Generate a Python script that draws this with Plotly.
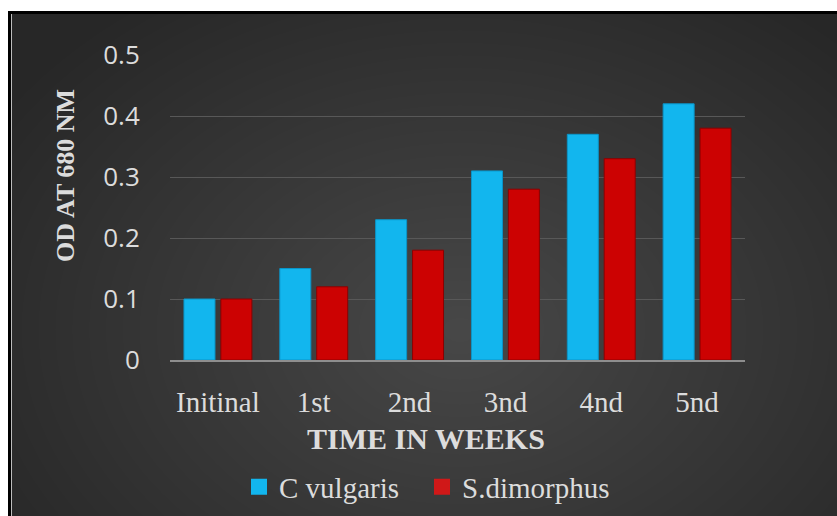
import plotly.graph_objects as go

categories = ["Initinal", "1st", "2nd", "3nd", "4nd", "5nd"]
c_vulgaris = [0.10, 0.15, 0.23, 0.31, 0.37, 0.42]
s_dimorphus = [0.10, 0.12, 0.18, 0.28, 0.33, 0.38]
series_names = ["C vulgaris", "S.dimorphus"]
y_ticks = [0, 0.1, 0.2, 0.3, 0.4, 0.5]
y_tick_text = ["0", "0.1", "0.2", "0.3", "0.4", "0.5"]

W, H = 837, 516
L, R, T, B = 170, 92, 55, 156
PW, PH = W - L - R, H - T - B


def px(x):
    return (x - L) / PW


def py(y):
    return (H - B - y) / PH


BLUE = "#12b6ee"
BLUE_EDGE = "#0a95c8"
RED = "#cc0202"
RED_EDGE = "#8e0000"
TXT = "#dcdcdc"
SERIF = "Liberation Serif, Times New Roman, serif"

fig = go.Figure()
fig.add_trace(go.Bar(x=categories, y=c_vulgaris, name=series_names[0],
                     marker=dict(color=BLUE, line=dict(color=BLUE_EDGE, width=1)),
                     showlegend=False))
fig.add_trace(go.Bar(x=categories, y=s_dimorphus, name=series_names[1],
                     marker=dict(color=RED, line=dict(color=RED_EDGE, width=1)),
                     showlegend=False))
# legend entries with square swatches, one legend each
for nm, col, lg in zip(series_names, [BLUE, "#d01818"], ["legend", "legend2"]):
    fig.add_trace(go.Scatter(x=[None], y=[None], mode="markers", name=nm,
                             marker=dict(symbol="square", size=17, color=col),
                             showlegend=True, legend=lg))

shapes = []
# radial-ish background glow
cx, cy = 460, 330
n = 32
for i in range(n):
    f = 1 - i / n
    rx, ry = 540 * f, 400 * f
    shapes.append(dict(type="circle", xref="paper", yref="paper", layer="below",
                       x0=px(cx - rx), x1=px(cx + rx), y0=py(cy + ry), y1=py(cy - ry),
                       fillcolor="white", opacity=0.0085, line=dict(width=0)))
# white margins and black frame
shapes.append(dict(type="rect", xref="paper", yref="paper", layer="above",
                   x0=px(-5), x1=px(W + 5), y0=py(11), y1=py(-5),
                   fillcolor="white", line=dict(width=0)))
shapes.append(dict(type="rect", xref="paper", yref="paper", layer="above",
                   x0=px(-5), x1=px(8), y0=py(H + 5), y1=py(-5),
                   fillcolor="white", line=dict(width=0)))
shapes.append(dict(type="rect", xref="paper", yref="paper", layer="above",
                   x0=px(8), x1=px(W + 5), y0=py(14), y1=py(11),
                   fillcolor="black", line=dict(width=0)))
shapes.append(dict(type="rect", xref="paper", yref="paper", layer="above",
                   x0=px(8), x1=px(11), y0=py(H + 5), y1=py(11),
                   fillcolor="black", line=dict(width=0)))
shapes.append(dict(type="rect", xref="paper", yref="paper", layer="above",
                   x0=px(11), x1=px(12), y0=py(H + 5), y1=py(14),
                   fillcolor="#bdbdbd", line=dict(width=0)))

legend_style = dict(orientation="h", xanchor="left", y=py(487), yanchor="middle",
                    font=dict(family=SERIF, size=29, color=TXT),
                    bgcolor="rgba(0,0,0,0)", itemclick=False)

fig.update_layout(
    width=W, height=H,
    margin=dict(l=L, r=R, t=T, b=B, autoexpand=False),
    paper_bgcolor="#272727",
    plot_bgcolor="rgba(0,0,0,0)",
    barmode="group", bargap=0.23, bargroupgap=0.16,
    shapes=shapes,
    showlegend=True,
    legend=dict(x=px(239), **legend_style),
    legend2=dict(x=px(422), **legend_style),
    annotations=[
        dict(text="<b>TIME IN WEEKS</b>", xref="paper", yref="paper",
             x=px(426), y=py(438), xanchor="center", yanchor="middle", showarrow=False,
             font=dict(family=SERIF, size=30, color=TXT)),
        dict(text="<b>OD AT 680 NM</b>", xref="paper", yref="paper", textangle=-90,
             x=px(65), y=py(176), xanchor="center", yanchor="middle", showarrow=False,
             font=dict(family=SERIF, size=26, color=TXT)),
    ],
    xaxis=dict(type="category", showgrid=False, showline=True, linecolor="#8e8e8e",
               linewidth=2, ticks="outside", ticklen=15, tickcolor="rgba(0,0,0,0)",
               tickfont=dict(family=SERIF, size=29, color=TXT), zeroline=False),
    yaxis=dict(range=[0, 0.5], tickvals=y_ticks, ticktext=y_tick_text,
               showgrid=True, gridcolor="#585858", gridwidth=1, zeroline=False,
               showline=False, ticks="outside", ticklen=24, tickcolor="rgba(0,0,0,0)",
               tickfont=dict(family="Open Sans, sans-serif", size=26, color=TXT)),
)

fig.write_html("out.html", config={"displayModeBar": False},
               post_script="document.body.style.margin='0';")
